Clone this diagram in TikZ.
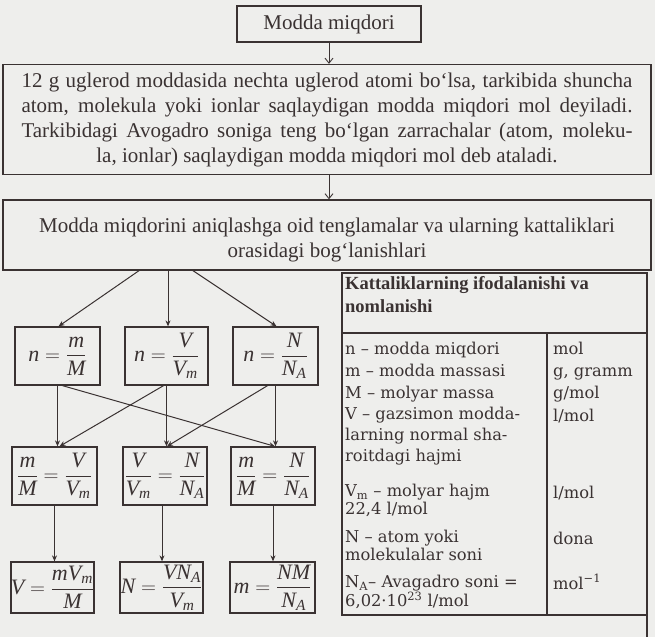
\documentclass[tikz,border=0pt]{standalone}
\usepackage{amsmath}
\usepackage{fontspec}
\setmainfont{Liberation Serif}
\newfontfamily\tabfont{DejaVu Serif}
\usetikzlibrary{arrows.meta,calc}
\definecolor{ink}{RGB}{58,50,50}
\definecolor{paper}{RGB}{238,238,236}
\newcommand{\mainfs}{\fontsize{21}{25}\selectfont}
\newcommand{\mathfs}{\fontsize{22}{26}\selectfont}
\newcommand{\tabfs}{\tabfont\fontsize{16.3}{18}\selectfont}
\newcommand{\hdrfs}{\bfseries\fontsize{18.5}{23}\selectfont}
\newcommand{\mi}[1]{\textit{#1}}
\begin{document}
\begin{tikzpicture}[x=1pt,y=-1pt,
  box/.style={draw=ink, line width=1.3pt, inner sep=0pt, text=ink},
  mbox/.style={box, font=\mathfs},
  arrtop/.style={draw=ink, line width=0.9pt, -{Straight Barb[length=5pt,width=8pt]}},
  arr/.style={draw=ink, line width=1pt, -{Stealth[length=6pt,width=5pt]}},
  tline/.style={draw=ink, line width=1.3pt},
  ttext/.style={text=ink, inner sep=0pt, font=\tabfs, align=left},
  htext/.style={text=ink, inner sep=0pt, font=\hdrfs, align=left}]
\fill[paper] (0,0) rectangle (655,637);
\useasboundingbox (0,0) rectangle (655,637);

% top chain
\node[box, minimum width=184pt, minimum height=36pt, font=\mainfs] (top) at (329,24) {Modda miqdori};
\node[box, minimum width=648pt, minimum height=110pt, font=\mainfs, align=center] (def) at (327,119.5)
 {\makebox[611pt][s]{12 g uglerod moddasida nechta uglerod atomi bo‘lsa, tarkibida shuncha}\\
  \makebox[611pt][s]{atom, molekula yoki ionlar saqlaydigan modda miqdori mol deyiladi.}\\
  \makebox[611pt][s]{Tarkibidagi Avogadro soniga teng bo‘lgan zarrachalar (atom, moleku-}\\
  \makebox[611pt][c]{la, ionlar) saqlaydigan modda miqdori mol deb ataladi.}};
\node[box, minimum width=648pt, minimum height=70pt] (rel) at (327,235) {};
\node[text=ink, inner sep=0pt, font=\mainfs, align=center] (reltext) at (327,240)
 {Modda miqdorini aniqlashga oid tenglamalar va ularning kattaliklari\\
  orasidagi bog‘lanishlari};
\draw[arrtop] (top.south) -- (top.south |- def.north);
\draw[arrtop] (def.south -| top.south) -- (rel.north -| top.south);

% row 1
\node[mbox, minimum width=85pt, minimum height=58pt] (r1a) at (57.5,356) {$\displaystyle \mi{n}=\frac{\mi{m}}{\mi{M}}$};
\node[mbox, minimum width=83pt, minimum height=58pt] (r1b) at (166.5,356) {$\displaystyle \mi{n}=\frac{\mi{V}}{\mi{V}_{\mi{m}}}$};
\node[mbox, minimum width=85pt, minimum height=58pt] (r1c) at (275.5,356) {$\displaystyle \mi{n}=\frac{\mi{N}}{\mi{N}_{\mi{A}}}$};
% row 2
\node[mbox, minimum width=85pt, minimum height=58pt] (r2a) at (54.5,476) {$\displaystyle \frac{\mi{m}}{\mi{M}}=\frac{\mi{V}}{\mi{V}_{\mi{m}}}$};
\node[mbox, minimum width=84pt, minimum height=58pt] (r2b) at (165,476) {$\displaystyle \frac{\mi{V}}{\mi{V}_{\mi{m}}}=\frac{\mi{N}}{\mi{N}_{\mi{A}}}$};
\node[mbox, minimum width=84pt, minimum height=58pt] (r2c) at (273,476) {$\displaystyle \frac{\mi{m}}{\mi{M}}=\frac{\mi{N}}{\mi{N}_{\mi{A}}}$};
% row 3
\node[mbox, minimum width=81pt, minimum height=51pt] (r3a) at (52.5,587.5) {$\displaystyle \mi{V}=\frac{\mi{mV}_{\mi{m}}}{\mi{M}}$};
\node[mbox, minimum width=83pt, minimum height=51pt] (r3b) at (161.5,587.5) {$\displaystyle \mi{N}=\frac{\mi{VN}_{\mi{A}}}{\mi{V}_{\mi{m}}}$};
\node[mbox, minimum width=85pt, minimum height=51pt] (r3c) at (272.5,587.5) {$\displaystyle \mi{m}=\frac{\mi{NM}}{\mi{N}_{\mi{A}}}$};

% fan from rel
\draw[arr] (139,0 |- rel.south) -- ([xshift=1pt]r1a.north);
\draw[arr] (168,0 |- rel.south) -- (168,0 |- r1b.north);
\draw[arr] (193,0 |- rel.south) -- ([xshift=1pt]r1c.north);
% row1 -> row2
\draw[arr] (r1a.south) -- (r1a.south |- r2a.north);
\draw[arr] (r1b.south) -- (r1b.south |- r2b.north);
\draw[arr] (r1c.south) -- (r1c.south |- r2c.north);
\draw[arr] ([xshift=5pt]r1a.south) -- ([xshift=2pt]r2c.north);
\draw[arr] ([xshift=-3pt]r1b.south) -- ([xshift=5pt]r2a.north);
\draw[arr] ([xshift=-8pt]r1c.south) -- ([xshift=2pt]r2b.north);
% row2 -> row3
\draw[arr] (r2a.south) -- (r2a.south |- r3a.north);
\draw[arr] ([xshift=-3pt]r2b.south) -- ([xshift=-3pt]r2b.south |- r3b.north);
\draw[arr] (r2c.south) -- (r2c.south |- r3c.north);

% table
\draw[tline] (342,273) rectangle (647,615);
\draw[tline] (342,333) -- (647,333);
\draw[tline] (547,333) -- (547,615);
\draw[tline] (647,615) -- (647,637);
\node[htext, anchor=north west] (hdr) at (345,276) {Kattaliklarning ifodalanishi va\\nomlanishi};

\node[ttext, anchor=base west] (ln) at (345,354) {n – modda miqdori};
\node[ttext, anchor=base west] (lm) at (345,376) {m – modda massasi};
\node[ttext, anchor=base west] (lM) at (345,398) {M – molyar massa};
\node[ttext, anchor=north west] (lV) at (345,407) {V – gazsimon modda-\\[3pt]larning normal sha-\\[3pt]roitdagi hajmi};
\node[ttext, anchor=north west] (lVm) at (345,484) {V\textsubscript{m} – molyar hajm\\22,4 l/mol};
\node[ttext, anchor=north west] (lN) at (345,530) {N – atom yoki\\molekulalar soni};
\node[ttext, anchor=north west] (lNA) at (345,575) {N\textsubscript{A}– Avagadro soni =\\6,02·10\textsuperscript{23} l/mol};

\node[ttext, anchor=base west] (un) at (553,354) {mol};
\node[ttext, anchor=base west] (um) at (553,376) {g, gramm};
\node[ttext, anchor=base west] (uM) at (553,398) {g/mol};
\node[ttext, anchor=base west] (uV) at (553,421) {l/mol};
\node[ttext, anchor=base west] (uVm) at (553,498) {l/mol};
\node[ttext, anchor=base west] (uN) at (553,544) {dona};
\node[ttext, anchor=base west] (uNA) at (553,589) {mol\textsuperscript{−1}};
\end{tikzpicture}
\end{document}
